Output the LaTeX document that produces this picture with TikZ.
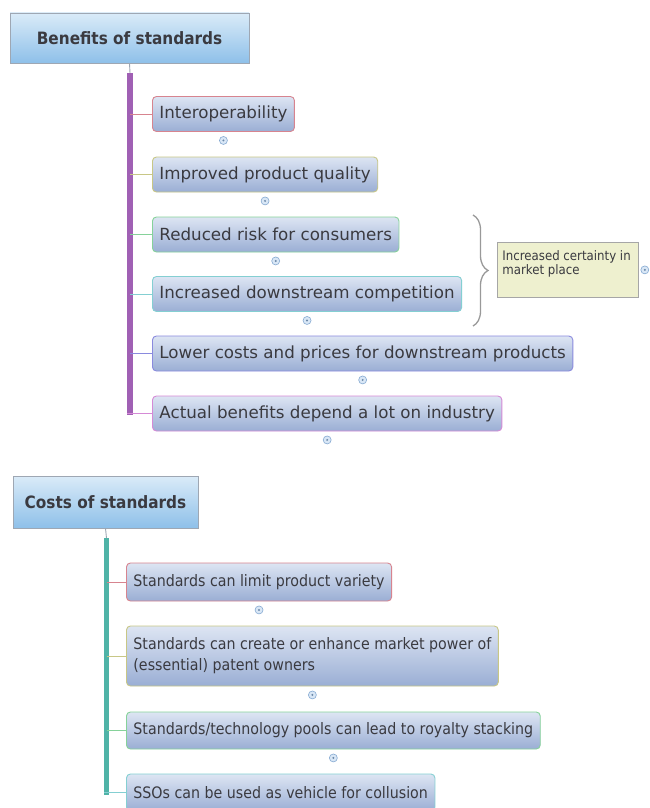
\documentclass[tikz,border=0pt]{standalone}
\usepackage{fontspec}
\setmainfont{DejaVu Sans}
\newfontfamily\condfont{DejaVu Sans Condensed}
\usetikzlibrary{decorations.pathreplacing,calc}
\definecolor{txt}{HTML}{3A3A40}
\definecolor{boxtop}{HTML}{DDE5F3}
\definecolor{boxbot}{HTML}{9AAED4}
\definecolor{ttop}{HTML}{DAEBF8}
\definecolor{tbot}{HTML}{8EC0E9}
\definecolor{tborder}{HTML}{9EA7B3}
\definecolor{cpink}{HTML}{D7848F}
\definecolor{colive}{HTML}{C8C786}
\definecolor{cgreen}{HTML}{86D29A}
\definecolor{cteal}{HTML}{84CFD2}
\definecolor{cblue}{HTML}{8A8ADE}
\definecolor{cmag}{HTML}{D58AD6}
\definecolor{purplebar}{HTML}{A060B4}
\definecolor{tealbar}{HTML}{4FB3A7}
\definecolor{certfill}{HTML}{EEF0CF}
\definecolor{circfill}{HTML}{D9E7F6}
\definecolor{circdraw}{HTML}{86AAD2}
\newcommand\myTopFont{\fontsize{16.7}{20}\selectfont}
\newcommand\myBotFont{\condfont\fontsize{15.8}{21}\selectfont}
\newcommand\myTitleFont{\condfont\bfseries\fontsize{17}{20}\selectfont}
\newcommand\mySmallFont{\condfont\fontsize{13.1}{14.5}\selectfont}
\tikzset{
  titlebox/.style={draw=tborder, line width=0.8pt, top color=ttop, bottom color=tbot, text=txt, font=\myTitleFont},
  topic/.style={draw=#1, rounded corners=4pt, line width=0.9pt, top color=boxtop, bottom color=boxbot,
    minimum height=35pt, inner xsep=7pt, anchor=west, text=txt, align=left},
  branch/.style={draw=#1, line width=0.9pt},
  conn/.style={draw=tborder, line width=0.9pt},
  pluscirc/.style={circle, draw=circdraw, fill=circfill, line width=0.6pt, minimum size=8pt, inner sep=0pt,
    path picture={\fill[circdraw!80!black] (path picture bounding box.center) circle (1.1pt);}},
  bracestyle/.style={draw=gray!80, line width=1.3pt, decorate, decoration={brace, amplitude=15pt}},
}
\begin{document}
\begin{tikzpicture}[x=1pt,y=-1pt]
\clip (0,0) rectangle (649,808);
\fill[white] (0,0) rectangle (649,808);

% ---------- Benefits ----------
\node[titlebox, minimum width=239pt, minimum height=50pt] (t1) at (129.5,38) {Benefits of standards};
\coordinate (b1top) at (130,73);
\coordinate (b1bot) at (130,415);
\draw[conn] (t1.south) -- (b1top);
\draw[draw=purplebar, line width=6pt] (b1top) -- (b1bot);

\node[topic=cpink, font=\myTopFont] (n1) at (152,114) {Interoperability};
\node[topic=colive, font=\myTopFont] (n2) at (152,174.5) {Improved product quality};
\node[topic=cgreen, font=\myTopFont] (n3) at (152,234.5) {Reduced risk for consumers};
\node[topic=cteal, font=\myTopFont] (n4) at (152,294) {Increased downstream competition};
\node[topic=cblue, font=\myTopFont] (n5) at (152,353.5) {Lower costs and prices for downstream products};
\node[topic=cmag, font=\myTopFont] (n6) at (152,413.5) {Actual benefits depend a lot on industry};

\draw[branch=cpink] (b1top |- n1.west) -- (n1.west);
\draw[branch=colive] (b1top |- n2.west) -- (n2.west);
\draw[branch=cgreen] (b1top |- n3.west) -- (n3.west);
\draw[branch=cteal] (b1top |- n4.west) -- (n4.west);
\draw[branch=cblue] (b1top |- n5.west) -- (n5.west);
\draw[branch=cmag] ($(b1top |- n6.west)+(-3,0)$) -- (n6.west);

\foreach \n in {1,...,6}{\node[pluscirc] (p\n) at ($(n\n.south)+(0,8.5)$) {};}

\draw[bracestyle] (473,215) -- (473,326);
\node[draw=gray!70, line width=0.8pt, fill=certfill, anchor=north west, minimum width=141pt, minimum height=55pt,
  inner sep=5pt, text=txt, font=\mySmallFont] (cert) at (497,242)
  {\parbox[c][45pt][t]{131pt}{\raggedright\vspace*{3pt}Increased certainty in\\market place}};
\node[pluscirc] (pc) at ($(cert.east)+(6,0)$) {};

% ---------- Costs ----------
\node[titlebox, minimum width=185pt, minimum height=52pt] (t2) at (105.5,502) {Costs of standards};
\coordinate (b2top) at (106.5,538);
\coordinate (b2bot) at (106.5,795);
\draw[conn] (t2.south) -- (b2top);
\draw[draw=tealbar, line width=5pt] (b2top) -- (b2bot);

\node[topic=cpink, font=\myBotFont, minimum height=38pt] (m1) at (126,582) {Standards can limit product variety};
\node[topic=colive, font=\myBotFont, minimum height=60pt] (m2) at (126,656) {Standards can create or enhance market power of\\(essential) patent owners};
\node[topic=cgreen, font=\myBotFont, minimum height=37pt] (m3) at (126,730.5) {Standards/technology pools can lead to royalty stacking};
\node[topic=cteal, font=\myBotFont, minimum height=37pt] (m4) at (126,792.5) {SSOs can be used as vehicle for collusion};

\draw[branch=cpink] (b2top |- m1.west) -- (m1.west);
\draw[branch=colive] (b2top |- m2.west) -- (m2.west);
\draw[branch=cgreen] (b2top |- m3.west) -- (m3.west);
\draw[branch=cteal] ($(b2top |- m4.west)+(-2.5,0)$) -- (m4.west);

\foreach \n in {1,...,3}{\node[pluscirc] (q\n) at ($(m\n.south)+(0,8.5)$) {};}
\end{tikzpicture}
\end{document}
